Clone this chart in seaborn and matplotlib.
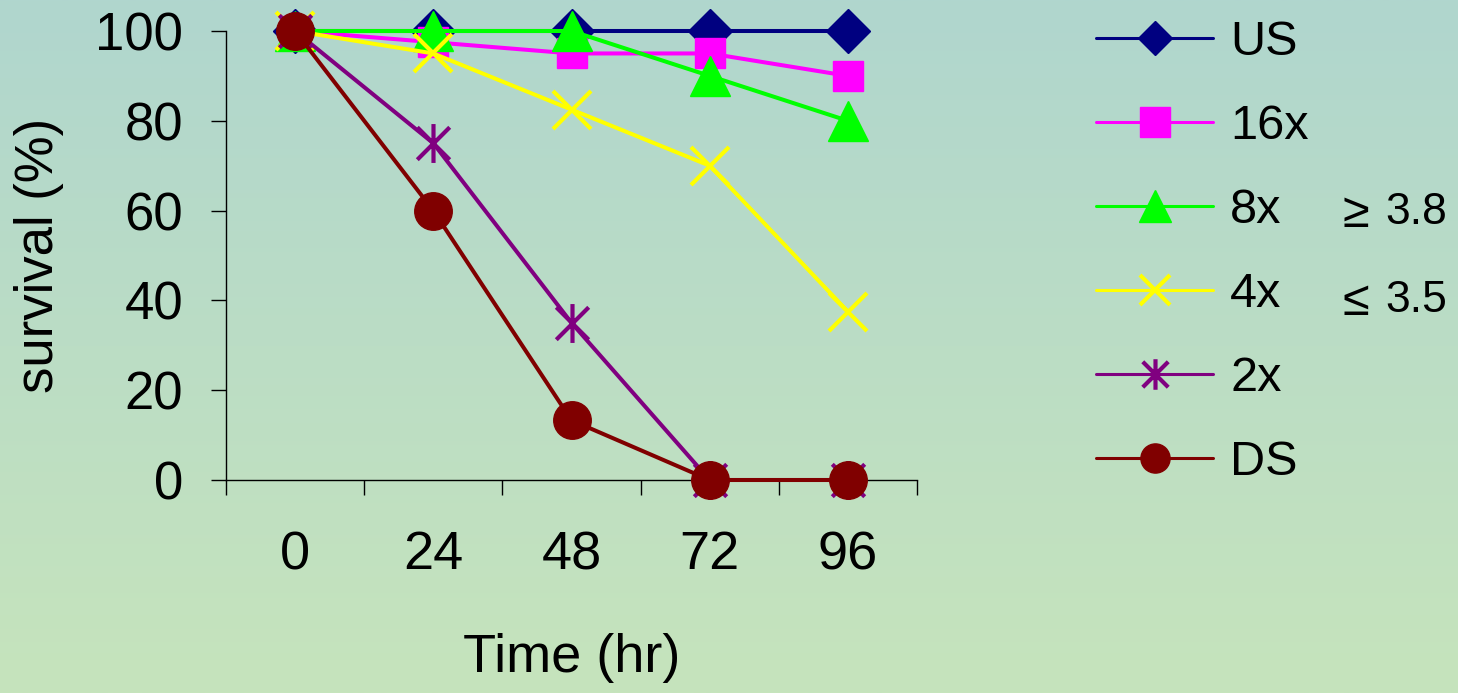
import numpy as np
import matplotlib
matplotlib.use("Agg")
import matplotlib.pyplot as plt
import seaborn as sns
import pandas as pd
from matplotlib.path import Path

sns.set_theme(style="white")
plt.rcParams['font.family'] = ['Liberation Sans', 'DejaVu Sans']
plt.rcParams['text.color'] = 'black'
plt.rcParams['axes.labelcolor'] = 'black'
plt.rcParams['xtick.color'] = 'black'
plt.rcParams['ytick.color'] = 'black'

time_labels = ["0", "24", "48", "72", "96"]
series_names = ["US", "16x", "8x", "4x", "2x", "DS"]
us = [100, 100, 100, 100, 100]
x16 = [100, 97.5, 95, 95, 90]
x8 = [100, 100, 100, 90, 80]
x4 = [100, 95, 82.5, 70, 37.5]
x2 = [100, 75, 35, 0, 0]
ds = [100, 60, 13.3, 0, 0]
values = [us, x16, x8, x4, x2, ds]
colors = ["#000080", "#FF00FF", "#00FF00", "#FFFF00", "#800080", "#800000"]
note_symbols = ["\u2265", "\u2264"]
note_values = ["3.8", "3.5"]

# Excel-style asterisk: X plus vertical line
ast = Path([(-0.5, -0.5), (0.5, 0.5), (-0.5, 0.5), (0.5, -0.5), (0, -0.6), (0, 0.6)],
           [Path.MOVETO, Path.LINETO, Path.MOVETO, Path.LINETO, Path.MOVETO, Path.LINETO])
markers = ["D", "s", "^", "x", ast, "o"]
msizes = [22, 21, 29, 28, 28, 27]
leg_msizes = [17, 21, 23, 22, 22, 21]

W, H = 1458, 693
fig = plt.figure(figsize=(W / 100, H / 100), dpi=100)

# gradient background
bg = fig.add_axes([0, 0, 1, 1], zorder=-10)
top = np.array([0xB0, 0xD6, 0xCE]) / 255
bot = np.array([0xC6, 0xE4, 0xBC]) / 255
t = np.linspace(0, 1, 256)[:, None]
grad = (top[None, :] * (1 - t) + bot[None, :] * t)[:, None, :]
bg.imshow(grad, aspect="auto", extent=[0, 1, 0, 1])
bg.axis("off")

ax = fig.add_axes([226 / W, 1 - 480 / H, (917 - 226) / W, (480 - 31) / H])
ax.set_facecolor("none")

rows = []
for name, vals in zip(series_names, values):
    for i, v in enumerate(vals):
        rows.append({"pos": i, "surv": v, "series": name})
df = pd.DataFrame(rows)

for k, name in enumerate(series_names):
    sub = df[df.series == name]
    sns.lineplot(data=sub, x="pos", y="surv", ax=ax, color=colors[k],
                 marker=markers[k], markersize=msizes[k], markeredgecolor=colors[k],
                 markeredgewidth=3 if k in (3, 4) else 1, linewidth=2.9,
                 label=name, clip_on=False, zorder=3 + k, legend=False)

ax.set_xlim(-0.5, len(time_labels) - 0.5)
ax.set_ylim(0, 100)
ax.set_xticks(np.arange(-0.5, len(time_labels), 1.0))
ax.set_xticklabels([])
ax.set_xticks(np.arange(len(time_labels)), minor=True)
ax.set_xticklabels(time_labels, minor=True)
ax.tick_params(axis="x", which="major", direction="out", length=11, width=1, color="black", bottom=True)
ax.tick_params(axis="x", which="minor", length=0, pad=36, labelsize=39, bottom=True)
ax.set_yticks([0, 20, 40, 60, 80, 100])
ax.tick_params(axis="y", direction="out", length=11, width=1, color="black", pad=20, labelsize=38, left=True)
for s in ["top", "right"]:
    ax.spines[s].set_visible(False)
for s in ["left", "bottom"]:
    ax.spines[s].set_color("black")
    ax.spines[s].set_linewidth(1)

ax.set_xlabel("Time (hr)", fontsize=39, va="top")
ax.xaxis.set_label_coords(0.5, -0.34)
ax.set_ylabel("survival (%)", fontsize=38, va="center")
ax.yaxis.set_label_coords(-0.27, 0.5)

handles, labels = ax.get_legend_handles_labels()
leg = fig.legend(handles, labels, loc="upper left", bbox_to_anchor=(1077 / W, 1 - 1 / H),
                 frameon=False, fontsize=35, labelspacing=0.80, handlelength=2.4,
                 handletextpad=0.35, borderaxespad=0)
for h, ms in zip(leg.legend_handles, leg_msizes):
    h.set_linewidth(2.2)
    h.set_markersize(ms)

for sym, val, yp in zip(note_symbols, note_values, [212, 300]):
    fig.text(1343 / W, 1 - (yp + 2) / H, sym, fontsize=35, va="center", ha="left")
    fig.text(1385 / W, 1 - yp / H, val, fontsize=32, va="center", ha="left")

fig.savefig("out.png", dpi=100)
